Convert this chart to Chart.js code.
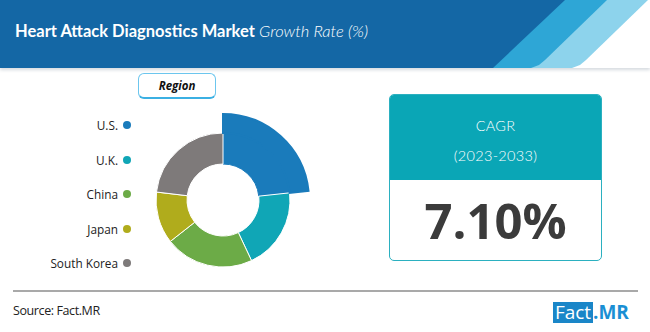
<!DOCTYPE html>
<html>
<head>
<meta charset="utf-8">
<script src="https://cdn.jsdelivr.net/npm/chart.js@4/dist/chart.umd.min.js"></script>
<style>
  html, body { margin:0; padding:0; }
  body { width:650px; height:332px; position:relative; overflow:hidden; background:#fff; font-family:"Open Sans", sans-serif; }
  .band { position:absolute; left:0; top:0; width:650px; height:68px; }
  #shadow { box-shadow:0 2px 3px rgba(90,110,130,0.25); background:#fff; clip-path:inset(0 0 -6px 0); }
  #light { background:#8dd3ec; clip-path:polygon(0 0, 648px 0, 586px 60px, 580px 65px, 572px 68px, 0 68px); }
  #mid { background:#2ea6d6; clip-path:polygon(0 0, 607px 0, 545px 60px, 539px 65px, 531px 68px, 0 68px); }
  #dark { background:#1467a5; clip-path:polygon(0 0, 565px 0, 493px 68px, 0 68px); }
  #title { position:absolute; left:15px; top:21px; color:#fff; font-family:Lato, sans-serif; font-size:16.5px; white-space:nowrap; }
  #title b { font-weight:700; }
  #title i { font-weight:300; }
  #regionBox { position:absolute; left:138px; top:73px; width:78px; height:26px; border:1px solid #6cc6ee; border-bottom:2px solid #3bb0e3; border-radius:6px; box-sizing:border-box; text-align:center; font:italic 700 11.5px "Open Sans", sans-serif; line-height:24px; color:#111; }
  #legend { position:absolute; left:0; top:0; }
  #chartWrap { position:absolute; left:123px; top:100px; width:200px; height:200px; }
  #cagr { position:absolute; left:389px; top:94px; width:213px; height:167px; border:1px solid #2bb0c0; border-radius:5px; box-sizing:border-box; overflow:hidden; }
  #cagrTop { position:absolute; left:0; top:0; width:100%; height:85px; background:#0aa6b6; color:#fff; text-align:center; font-family:Lato, sans-serif; font-weight:300; font-size:14.5px; letter-spacing:0.3px; }
  #cagrTop div { position:absolute; width:100%; }
  #cagrVal { position:absolute; left:0; top:85px; width:100%; height:80px; text-align:center; font:700 49px "Open Sans", sans-serif; color:#3b3b3b; line-height:80px; }
  #rule { position:absolute; left:13px; top:290px; width:625px; height:2px; background:#a9a9a9; }
  #source { position:absolute; left:13px; top:302px; font-size:12.5px; color:#222; font-family:"Open Sans", sans-serif; letter-spacing:-0.4px; }
  #logoBox { position:absolute; left:553px; top:302px; width:40px; height:21px; background:#1a86c8; color:#fff; font:400 19px "Open Sans", sans-serif; line-height:21px; text-align:center; }
  #logoMR { position:absolute; left:593px; top:302px; color:#1a8fd4; font:700 19px "Open Sans", sans-serif; line-height:21px; }
</style>
</head>
<body>
<div class="band" id="shadow"></div>
<div class="band" id="light"></div>
<div class="band" id="mid"></div>
<div class="band" id="dark"></div>
<div id="title"><b>Heart Attack Diagnostics Market</b> <i>Growth Rate (%)</i></div>
<div id="regionBox">Region</div>
<div id="legend"></div>
<div id="chartWrap"><canvas id="c" width="200" height="200"></canvas></div>
<div id="cagr">
  <div id="cagrTop"><div id="cagrLabel" style="top:22px"></div><div id="cagrPeriod" style="top:52px"></div></div>
  <div id="cagrVal"></div>
</div>
<div id="rule"></div>
<div id="source">Source: Fact.MR</div>
<div id="logoBox">Fact</div>
<div id="logoMR">.MR</div>
<script>
// ---- data ----
const regions = ['U.S.', 'U.K.', 'China', 'Japan', 'South Korea'];
const shares = [23.3, 19.7, 21.4, 12.5, 23.1];
const colors = ['#1a7bbb', '#10a6b6', '#6cab47', '#b0ac1c', '#7e7a7a'];
const cagrLabel = 'CAGR';
const cagrPeriod = '(2023-2033)';
const cagrValue = '7.10%';

// ---- text pieces ----
document.getElementById('cagrLabel').textContent = cagrLabel;
document.getElementById('cagrPeriod').textContent = cagrPeriod;
document.getElementById('cagrVal').textContent = cagrValue;

const legend = document.getElementById('legend');
regions.forEach((r, i) => {
  const row = document.createElement('div');
  row.style.cssText = 'position:absolute;left:0;top:' + (125 + i * 34.6 - 8) + 'px;width:131px;height:16px;';
  const t = document.createElement('span');
  t.textContent = r;
  t.style.cssText = 'position:absolute;right:13px;top:0;line-height:16px;font-size:11.8px;color:#222;white-space:nowrap;font-family:"Open Sans",sans-serif;';
  const d = document.createElement('span');
  d.style.cssText = 'position:absolute;right:0;top:4px;width:8px;height:8px;border-radius:50%;background:' + colors[i] + ';';
  row.appendChild(t); row.appendChild(d);
  legend.appendChild(row);
});

// ---- chart ----
const outerR = 86, ringR = 67, holeR = 36;
new Chart(document.getElementById('c'), {
  type: 'doughnut',
  data: {
    labels: regions,
    datasets: [
      {
        data: shares,
        weight: outerR - ringR,
        backgroundColor: colors.map((c, i) => i === 0 ? c : 'rgba(0,0,0,0)'),
        borderColor: colors.map((c, i) => i === 0 ? c : 'rgba(0,0,0,0)'),
        borderWidth: colors.map((c, i) => i === 0 ? 2 : 0),
        borderJoinStyle: 'miter',
        hoverOffset: 0
      },
      {
        data: shares,
        weight: ringR - holeR,
        backgroundColor: colors,
        borderColor: colors.map((c, i) => i === 0 ? c : '#ffffff'),
        borderWidth: 1,
        hoverOffset: 0
      }
    ]
  },
  options: {
    responsive: false,
    animation: false,
    events: [],
    radius: outerR,
    cutout: (holeR / outerR * 100) + '%',
    layout: { padding: 0 },
    plugins: { legend: { display: false }, tooltip: { enabled: false } }
  }
});
</script>
</body>
</html>
